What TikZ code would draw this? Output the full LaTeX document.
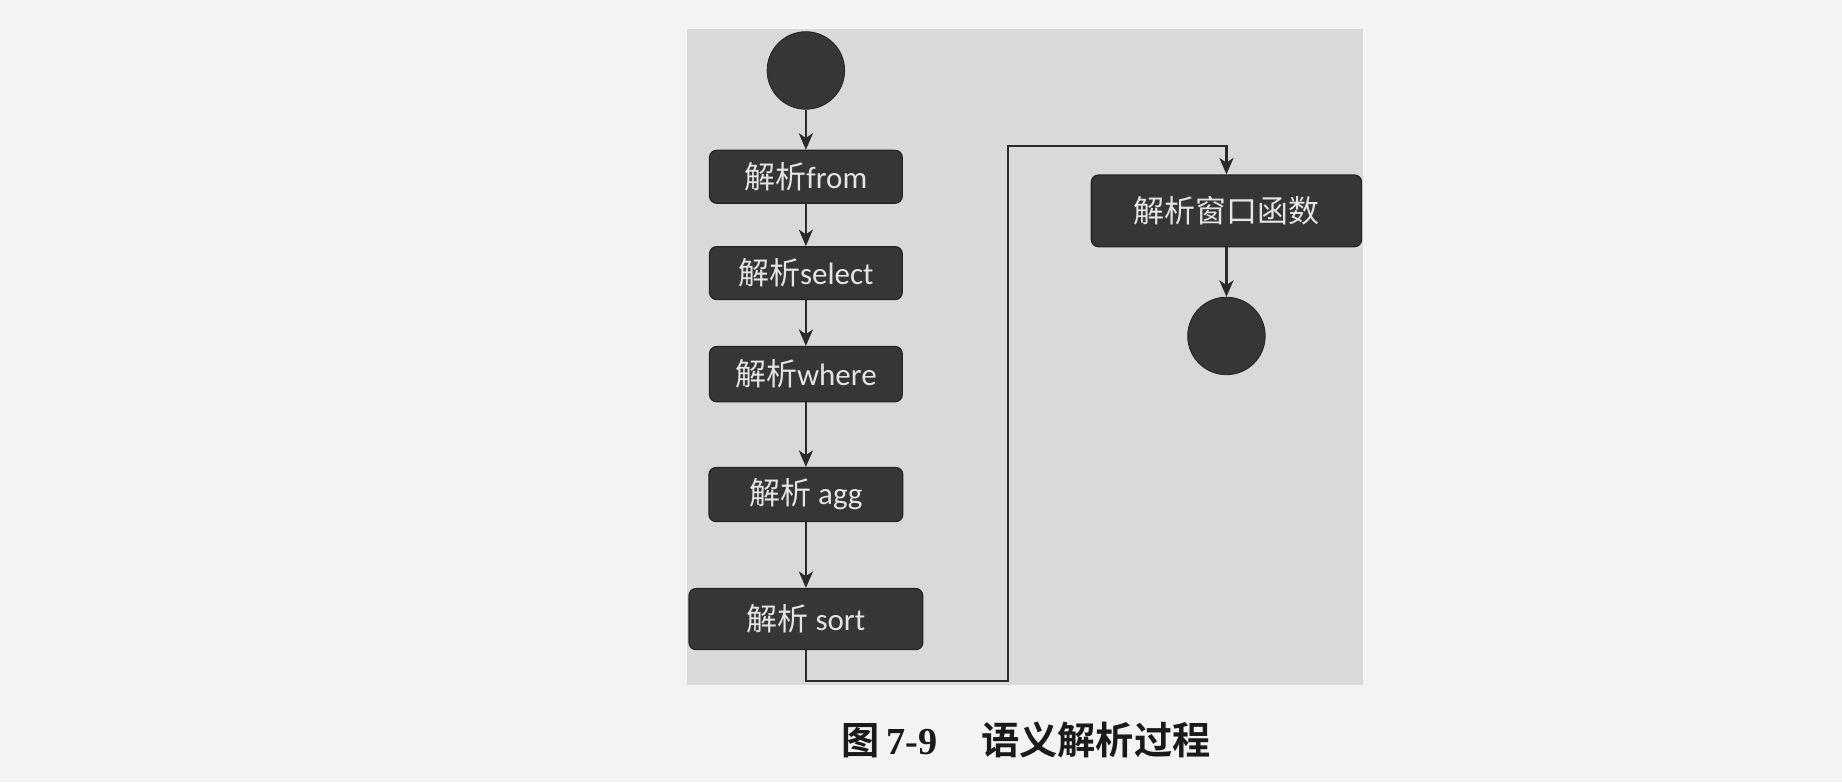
\documentclass[tikz,border=0pt]{standalone}
\usepackage{fontspec}
\setmainfont{Carlito}
\newfontfamily\cjk{Noto Sans CJK SC}[BoldFont={Noto Sans CJK SC Bold}]
\newfontfamily\capserif{Liberation Serif}
\usetikzlibrary{arrows.meta}
\definecolor{pagebg}{HTML}{F3F3F3}
\definecolor{panelbg}{HTML}{D9D9D9}
\definecolor{boxfill}{HTML}{363636}
\definecolor{boxline}{HTML}{242424}
\definecolor{boxtext}{HTML}{E4E4E4}
\definecolor{linecol}{HTML}{2A2A2A}
\definecolor{captext}{HTML}{1A1A1A}
\tikzset{
  stepbox/.style={draw=boxline, fill=boxfill, rounded corners=0.12cm, line width=0.6pt,
    text=boxtext, font=\fontsize{15}{18}\selectfont, inner sep=0pt, align=center},
  dot/.style={circle, draw=boxline, fill=boxfill, minimum size=1.32cm, inner sep=0pt},
  arr/.style={draw=linecol, line width=1.1pt, -{Stealth[length=0.28cm, width=0.24cm, inset=0.08cm]}},
}
\begin{document}
\begin{tikzpicture}
\useasboundingbox (0,0) rectangle (31.36,13.32);
\fill[pagebg] (0,0) rectangle (31.36,13.32);
\fill[panelbg] (11.70,1.66) rectangle (23.20,12.82);

\node[dot] (start) at (13.72,12.12) {};
\node[stepbox, minimum width=3.28cm, minimum height=0.90cm] (from) at (13.72,10.31) {{\cjk 解析}from};
\node[stepbox, minimum width=3.28cm, minimum height=0.90cm] (select) at (13.72,8.67) {{\cjk 解析}select};
\node[stepbox, minimum width=3.28cm, minimum height=0.94cm] (where) at (13.72,6.95) {{\cjk 解析}where};
\node[stepbox, minimum width=3.30cm, minimum height=0.92cm] (agg) at (13.72,4.90) {{\cjk 解析} agg};
\node[stepbox, minimum width=3.98cm, minimum height=1.04cm] (sort) at (13.72,2.78) {{\cjk 解析} sort};
\node[stepbox, minimum width=4.60cm, minimum height=1.22cm] (win) at (20.88,9.73) {{\cjk 解析窗口函数}};
\node[dot] (end) at (20.88,7.60) {};

\coordinate (c1) at (13.72,1.72);
\coordinate (c2) at (17.16,1.72);
\coordinate (c3) at (17.16,10.84);

\draw[arr] (start) -- (from);
\draw[arr] (from) -- (select);
\draw[arr] (select) -- (where);
\draw[arr] (where) -- (agg);
\draw[arr] (agg) -- (sort);
\draw[arr] (sort.south) -- (c1) -- (c2) -- (c3) -| (win.north);
\draw[arr] (win) -- (end);

\node[text=captext, font=\fontsize{18.5}{22}\selectfont, anchor=center] (cap) at (17.47,0.72)
  {{\cjk\bfseries 图}\,{\capserif\bfseries 7-9}\hspace{0.75cm}{\cjk\bfseries 语义解析过程}};
\end{tikzpicture}
\end{document}
